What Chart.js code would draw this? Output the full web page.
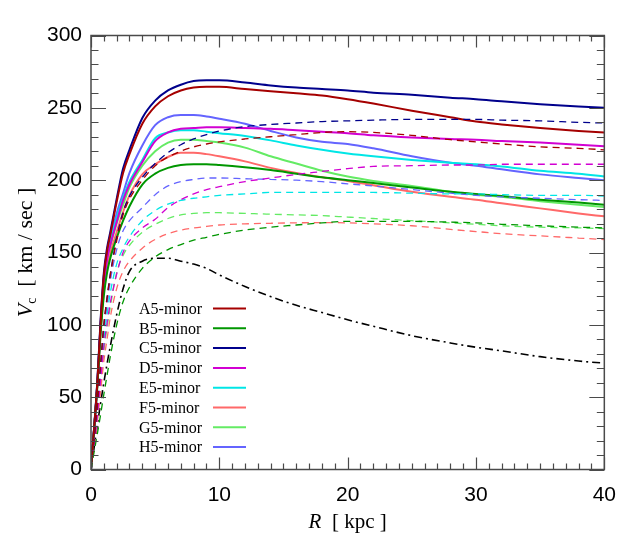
<!DOCTYPE html>
<html><head><meta charset="utf-8">
<script src="https://cdn.jsdelivr.net/npm/chart.js@4/dist/chart.umd.min.js"></script>
<style>html,body{margin:0;padding:0;background:#fff;}</style>
</head><body>
<canvas id="c" width="629" height="550" style="display:block;width:629px;height:550px"></canvas>
<script>
// ---- data (R in kpc, Vc in km/s) ----
const R = [0,0.5,0.75,1,1.25,1.5,2,2.5,3,4,5,6,7,8,9,10,12,14,16,18,20,22,25,28,30,32,35,38,40];
const xTicks = [0,10,20,30,40];
const yTicks = [0,50,100,150,200,250,300];
const labels = ['A5-minor','B5-minor','C5-minor','D5-minor','E5-minor','F5-minor','G5-minor','H5-minor'];
const colors = ['rgb(165,0,0)','rgb(0,150,0)','rgb(0,0,140)','rgb(210,0,210)','rgb(0,230,230)','rgb(255,105,105)','rgb(100,235,100)','rgb(100,100,255)'];

const A5_total = [0,61,102,134,151,162,185,205,218,239,251,258,262,264,264.5,264.5,263,261.5,260,258.5,256,253,248,243.5,240.5,238.5,236,234,233];
const B5_total = [0,58,94,120,136,146,160,172,182,197,204.5,208.5,210.5,211,211,210.5,209,207,204.5,202,200,198,195,192,190.5,189,186.5,184.5,183];
const C5_total = [0,62,104,136,153,164,187,208,221,243,255,262,266,268.5,269,269,267.5,265.5,264,263,262,260.5,259,257,256,254.5,252.5,251,250];
const D5_total = [0,60,99,128,145,155,171,186,197,212.5,227,233,235.5,236,236.5,236.5,236,235.5,234.5,233.5,232.5,231,229.5,228.5,228,227,226,224.5,223.5];
const E5_total = [0,60,100,129,147,157,174,188,199,214,229,233,234.5,234.5,233.5,232.5,230.5,227.5,224,221,218.5,216.5,214,212,211,209.5,206.5,204.5,202.5];
const F5_total = [0,59,96,123,139,149,164,178,189.5,204,211,216,219,219,218,216.5,213,208.5,205,202,199.5,196.5,192,188.5,186.5,184,180.5,177,175];
const G5_total = [0,60,98,126,144,154,170,183,195,210,220,226,228,228,227,226,222.5,216.5,211.5,206.5,202.5,199.5,196,192,190,188.5,185.5,183,181.5];
const H5_total = [0,61,101,132,150,160,177,191,205,224,238,243.5,245,245,244,242.5,239,234,229.5,226.5,225,222,216.5,212,210,207.5,204,201.5,200];

const A5_halo = [0,45,73,100,118,134,158,176,187,200,210,216,220,223,225,226.5,228.5,230,231.5,233,233.5,233,231,228,226.5,225,223,222,221];
const B5_halo = [0,25,38,52,65,78,100,116,126,139,147,152,155.5,158.5,160.5,162.5,165.5,167.5,169,170.5,171.5,171.5,171.5,171,170.5,169.5,168.5,167.5,167];
const C5_halo = [0,45,73,100,119,135,160,178,189,202,211.5,219,224.5,228.5,231.5,234,237,238.5,239.5,240.5,241,241.5,242,242,242,241.5,241,240,239.5];
const D5_halo = [0,38,62,85,101,115,135,150,158,167,173,181,186.5,190.5,193.5,195.5,199,201.5,204,206,208,209.5,210,210.5,210.5,211,211,211,211];
const E5_halo = [0,40,66,90,107,122,142,153,161,172,179,183.5,186,187.5,188.5,189.5,190.5,191.5,191.5,191.5,191.5,191.5,191,190.5,190.5,190,189.5,189.5,189];
const F5_halo = [0,33,54,75,90,105,125,137,144,153,159,163,165.5,167,168,169,169.8,170.2,170.5,170.7,170.5,169.8,168.5,166,164.5,163,161.5,160,159];
const G5_halo = [0,37,60,82,98,112,136,148,155,164,169.5,173.5,176,177,177.5,177.5,177,176.5,176,175.5,174.5,173.5,172,170.5,169.5,168.5,167.5,167,166.5];
const H5_halo = [0,42,69,95,113,130,152,165,172,181,190,196,199,200.5,201.5,201.5,201,200.5,200,199,197.5,196,193.5,191,189.5,188.5,187.5,186.5,186];

const disk = [0,31,46,60,73,85,107,125,137,144,146,146,144,142,139,134.5,126.5,119.5,113.5,108.5,103.5,99,92.5,87.5,84.5,82,78,75,73.5];

const totals = [A5_total,B5_total,C5_total,D5_total,E5_total,F5_total,G5_total,H5_total];
const halos  = [A5_halo,B5_halo,C5_halo,D5_halo,E5_halo,F5_halo,G5_halo,H5_halo];

const toXY = arr => arr.map((v,i)=>({x:R[i], y:v}));
const datasets = [];
halos.forEach((h,i)=>datasets.push({label:labels[i]+' halo', data:toXY(h), borderColor:colors[i], borderWidth:1.3, borderDash:[7,5], pointRadius:0, cubicInterpolationMode:'monotone', fill:false}));
totals.forEach((t,i)=>datasets.push({label:labels[i], data:toXY(t), borderColor:colors[i], borderWidth:2, pointRadius:0, cubicInterpolationMode:'monotone', fill:false}));
datasets.push({label:'disk', data:toXY(disk), borderColor:'#000', borderWidth:1.6, borderDash:[8,4,2,4], pointRadius:0, cubicInterpolationMode:'monotone', fill:false});

const FRAME = '#4a4a4a';
const frameTicks = {
  id:'frameTicks',
  afterDatasetsDraw(chart){
    const {ctx, chartArea:a, scales:{x,y}} = chart;
    ctx.save();
    ctx.strokeStyle = FRAME; ctx.lineWidth = 1.5;
    ctx.strokeRect(a.left, a.top, a.right-a.left, a.bottom-a.top);
    ctx.lineWidth = 1.2;
    ctx.beginPath();
    for (let v=0; v<=40; v+=1){
      const px = Math.round(x.getPixelForValue(v))+0.5;
      const L = (v%10===0)?12:6;
      ctx.moveTo(px,a.bottom); ctx.lineTo(px,a.bottom-L);
      ctx.moveTo(px,a.top); ctx.lineTo(px,a.top+L);
    }
    for (let v=0; v<=300; v+=10){
      const py = Math.round(y.getPixelForValue(v))+0.5;
      const L = (v%50===0)?15:7.5;
      ctx.moveTo(a.left,py); ctx.lineTo(a.left+L,py);
      ctx.moveTo(a.right,py); ctx.lineTo(a.right-L,py);
    }
    ctx.stroke();
    ctx.restore();
  },
  afterDraw(chart){
    const {ctx, chartArea:a} = chart;
    ctx.save();
    ctx.fillStyle = '#000';
    const serif = '"Liberation Serif","Times New Roman",serif';
    // x title
    ctx.textBaseline = 'alphabetic';
    ctx.font = 'italic 21px '+serif;
    const wR = ctx.measureText('R').width;
    ctx.font = '21px '+serif;
    const rest = '  [ kpc ]';
    const wRest = ctx.measureText(rest).width;
    const sx = (a.left+a.right)/2 - (wR+wRest)/2;
    ctx.font = 'italic 21px '+serif; ctx.fillText('R', sx, 528);
    ctx.font = '21px '+serif; ctx.fillText(rest, sx+wR, 528);
    // y title
    ctx.save();
    ctx.translate(32, (a.top+a.bottom)/2);
    ctx.rotate(-Math.PI/2);
    ctx.font = 'italic 22px '+serif; const wV = ctx.measureText('V').width;
    ctx.font = '14px '+serif; const wc = ctx.measureText('c').width;
    ctx.font = '22px '+serif; const yRest = '  [ km / sec ]'; const wY = ctx.measureText(yRest).width;
    const tx = -(wV+wc+wY)/2;
    ctx.font = 'italic 22px '+serif; ctx.fillText('V', tx, 0);
    ctx.font = '14px '+serif; ctx.fillText('c', tx+wV, 4);
    ctx.font = '22px '+serif; ctx.fillText(yRest, tx+wV+wc, 0);
    ctx.restore();
    // legend
    ctx.font = '16px '+serif;
    ctx.textBaseline = 'middle';
    labels.forEach((lab,i)=>{
      const yc = 308.5 + i*19.8;
      ctx.fillStyle = '#000';
      ctx.fillText(lab, 139, yc+1);
      ctx.strokeStyle = colors[i]; ctx.lineWidth = 2;
      ctx.beginPath(); ctx.moveTo(213, yc); ctx.lineTo(246, yc); ctx.stroke();
    });
    ctx.restore();
  }
};

const sans = '"Liberation Sans", Arial, Helvetica, sans-serif';
new Chart(document.getElementById('c'), {
  type:'line',
  data:{datasets},
  options:{
    responsive:false, animation:false, devicePixelRatio:1,
    layout:{padding:{left:0, right:23.5, top:35.5, bottom:0}},
    plugins:{legend:{display:false}, tooltip:{enabled:false}},
    scales:{
      x:{type:'linear', min:0, max:40,
        afterBuildTicks: s => { s.ticks = xTicks.map(v=>({value:v})); },
        ticks:{color:'#000', font:{family:sans, size:21}, padding:13, maxRotation:0, autoSkip:false},
        grid:{display:false, drawTicks:false}, border:{display:false},
        afterFit: s => { s.height = 80.5; }},
      y:{type:'linear', min:0, max:300,
        afterBuildTicks: s => { s.ticks = yTicks.map(v=>({value:v})); },
        ticks:{color:'#000', font:{family:sans, size:21}, padding:9, autoSkip:false},
        grid:{display:false, drawTicks:false}, border:{display:false},
        afterFit: s => { s.width = 91; }}
    }
  },
  plugins:[frameTicks]
});
</script>
</body></html>
